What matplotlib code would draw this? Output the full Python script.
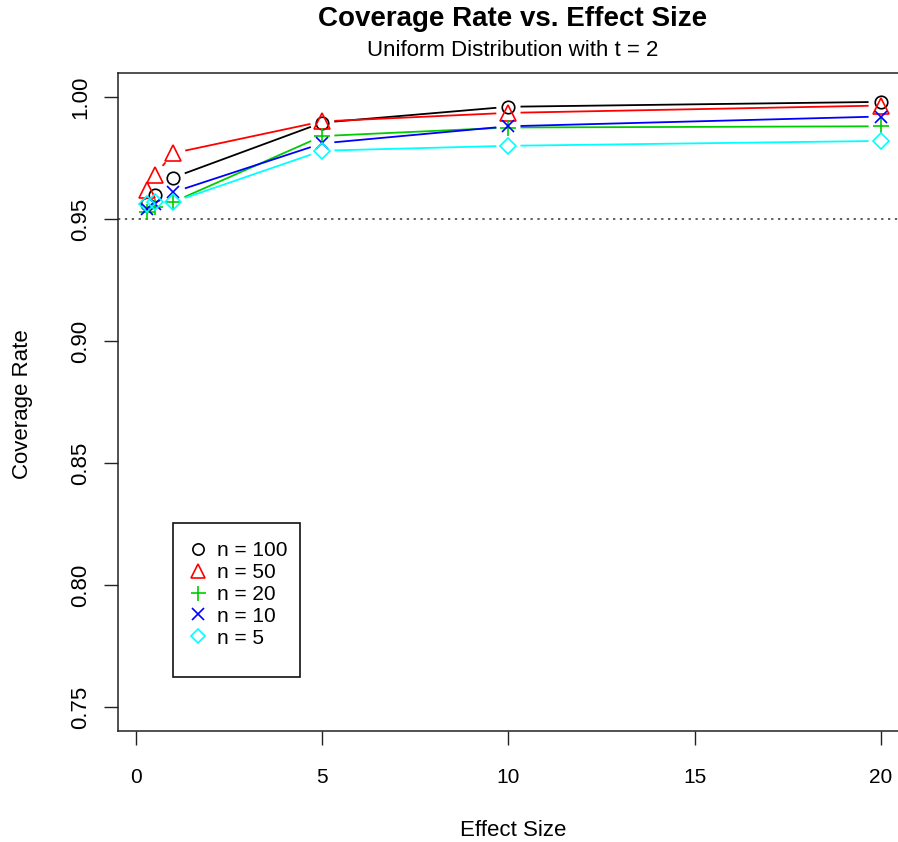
import matplotlib
matplotlib.use("Agg")
import matplotlib.pyplot as plt
import numpy as np
from matplotlib.lines import Line2D
from matplotlib.patches import Rectangle

plt.rcParams['font.family'] = ['Liberation Sans', 'DejaVu Sans']

# данные: размер эффекта и доля покрытия для каждого n
effect = [0.3, 0.5, 1, 5, 10, 20]
labels = ["n = 100", "n = 50", "n = 20", "n = 10", "n = 5"]
cov_100 = [0.956, 0.960, 0.967, 0.9895, 0.996, 0.998]
cov_50 = [0.962, 0.968, 0.977, 0.990, 0.9935, 0.9965]
cov_20 = [0.953, 0.955, 0.957, 0.984, 0.9875, 0.988]
cov_10 = [0.954, 0.956, 0.961, 0.981, 0.988, 0.992]
cov_5 = [0.956, 0.957, 0.957, 0.978, 0.980, 0.982]
nominal = 0.95

series = [cov_100, cov_50, cov_20, cov_10, cov_5]
colors = ['#000000', '#FF0000', '#00CD00', '#0000FF', '#00FFFF']
markers = ['o', '^', '+', 'x', 'D']
msizes = [9, 11, 12, 9, 8]

W, H = 898, 842
fig = plt.figure(figsize=(W / 100, H / 100), dpi=100)

# область построения как в R (правая часть обрезана краем картинки)
left_px, right_px, top_px, bot_px = 118, 910, 72.6, 731.4
ax = fig.add_axes([left_px / W, 1 - bot_px / H,
                   (right_px - left_px) / W, (bot_px - top_px) / H])

xr = effect[-1] - effect[0]
ax.set_xlim(effect[0] - 0.04 * xr, effect[-1] + 0.04 * xr)
ax.set_ylim(0.74, 1.01)
ax.set_xticks([0, 5, 10, 15, 20])
ax.set_yticks([0.75, 0.80, 0.85, 0.90, 0.95, 1.00])
ax.set_yticklabels(["0.75", "0.80", "0.85", "0.90", "0.95", "1.00"])
ax.tick_params(axis='both', direction='out', length=10, width=1, color='#222222')
ax.tick_params(axis='x', labelsize=15, pad=16.5)
ax.tick_params(axis='y', labelsize=16, pad=9)
for lab in ax.get_yticklabels():
    lab.set_rotation(90)
    lab.set_va('center')
    lab.set_ha('right')
for s in ax.spines.values():
    s.set_linewidth(1.1)
    s.set_color('#222222')

# пунктир на уровне 0.95
ax.axhline(nominal, color='#333333', lw=1.1, ls=(0, (1.5, 3)))


# линии с разрывами вокруг маркеров (type = "b" в R)
def gapped(xs, ys, color, gap=13):
    pts = ax.transData.transform(np.column_stack([xs, ys]))
    inv = ax.transData.inverted()
    for p, q in zip(pts[:-1], pts[1:]):
        d = q - p
        L = np.hypot(d[0], d[1])
        if L <= 2 * gap:
            continue
        u = d / L
        a, b = inv.transform([p + u * gap, q - u * gap])
        ax.plot([a[0], b[0]], [a[1], b[1]], color=color, lw=1.3)


for ys, c, m, ms in zip(series, colors, markers, msizes):
    gapped(effect, ys, c)
    ax.plot(effect, ys, ls='none', marker=m, ms=ms, mfc='none', mec=c, mew=1.2)

# легенда: рамка отдельно, как у R (с запасом снизу)
fig.patches.append(Rectangle((173 / W, 1 - 677 / H), 127 / W, 154 / H,
                             transform=fig.transFigure, fill=False,
                             edgecolor='#111111', lw=1.2, zorder=5))
handles = [Line2D([], [], ls='none', marker=m, ms=ms * 0.9, mfc='none', mec=c, mew=1.2)
           for c, m, ms in zip(colors, markers, msizes)]
leg = ax.legend(handles, labels, loc='upper left',
                bbox_to_anchor=(188 / W, 1 - 541 / H), bbox_transform=fig.transFigure,
                borderaxespad=0, borderpad=0, fontsize=15, handlelength=1.0,
                handletextpad=0.4, labelspacing=0.14, frameon=False)

fig.text(513 / W, 1 - 19 / H, "Coverage Rate vs. Effect Size", ha='center', va='center',
         fontsize=20, fontweight='bold')
fig.text(513 / W, 1 - 51 / H, "Uniform Distribution with t = 2", ha='center', va='center',
         fontsize=16)
fig.text(513 / W, 1 - 830 / H, "Effect Size", ha='center', va='center', fontsize=16)
fig.text(23 / W, 1 - 404 / H, "Coverage Rate", ha='center', va='center', rotation=90,
         fontsize=16)

fig.savefig("out.png", dpi=100)
